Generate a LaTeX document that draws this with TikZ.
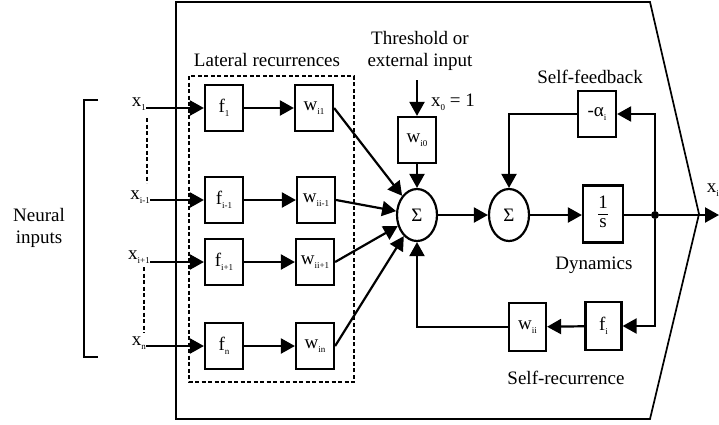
\documentclass[tikz,border=0pt]{standalone}
\usepackage{fontspec}
\setmainfont{Liberation Serif}
\usetikzlibrary{arrows.meta,shapes.geometric}
\newcommand\sbs[1]{\raisebox{-0.45ex}{\fontsize{9}{9}\selectfont #1}}
\begin{document}
\begin{tikzpicture}[x=1pt,y=-1pt,
  lbl/.style={font=\fontsize{19}{22}\selectfont, inner sep=0pt, align=center},
  blk/.style={draw, line width=2.2pt, minimum width=38pt, minimum height=46pt, inner sep=0pt, font=\fontsize{19}{21}\selectfont},
  sumnode/.style={draw, line width=2.2pt, ellipse, minimum width=40pt, minimum height=52pt, inner sep=0pt, font=\fontsize{19}{21}\selectfont},
  conn/.style={line width=2.2pt, -{Triangle[length=14pt,width=15pt]}},
  plain/.style={line width=2.2pt},
  dotline/.style={line width=2.4pt, dash pattern=on 4pt off 2.5pt},
]
\useasboundingbox (0,0) rectangle (719,424);

% outer shape
\draw[line width=1.7pt] (176,2) -- (650,2) -- (699,214) -- (650,419) -- (176,419) -- cycle;

% bracket and neural inputs
\draw[plain] (98,100) -- (84,100) -- (84,357) -- (98,357);
\node[lbl] (neural) at (39,228) {Neural\\inputs};

% lateral recurrences box
\draw[dotline] (189,76) rectangle (354,382);
\node[lbl] (latlbl) at (267,60) {Lateral recurrences};

% input labels
\node[lbl, anchor=east] (x1) at (146,104) {x\sbs{1}};
\node[lbl, anchor=east] (xim) at (150,197) {x\sbs{i-1}};
\node[lbl, anchor=east] (xip) at (150,257) {x\sbs{i+1}};
\node[lbl, anchor=east] (xn) at (146,343) {x\sbs{n}};

% dotted input continuations
\draw[dotline] (147,118) -- (147,183);
\draw[dotline] (144,267) -- (144,333);

% f and w blocks
\node[blk] (f1) at (224,108) {f\sbs{1}};
\node[blk] (w1) at (314,108) {w\sbs{i1}};
\node[blk] (fim) at (224,200) {f\sbs{i-1}};
\node[blk] (wim) at (316,200) {w\sbs{ii-1}};
\node[blk] (fip) at (224,262) {f\sbs{i+1}};
\node[blk] (wip) at (315,262) {w\sbs{ii+1}};
\node[blk] (fn) at (224,346) {f\sbs{n}};
\node[blk] (wn) at (315,346) {w\sbs{in}};

\draw[conn] (x1.east |- f1.west) -- (f1.west);
\draw[conn] (xim.east |- fim.west) -- (fim.west);
\draw[conn] (xip.east |- fip.west) -- (fip.west);
\draw[conn] (xn.east |- fn.west) -- (fn.west);
\draw[conn] (f1) -- (w1);
\draw[conn] (fim) -- (wim);
\draw[conn] (fip) -- (wip);
\draw[conn] (fn) -- (wn);

% threshold
\node[lbl] (thrlbl) at (420,51) {Threshold or\\external input};
\coordinate (thr) at (417,80);
\node[blk] (wi0) at (417,140) {w\sbs{i0}};
\node[lbl, anchor=west] (x0) at (431,102) {x\sbs{0} = 1};
\draw[conn] (thr) -- (wi0);

% sums
\node[sumnode] (s1) at (417,215) {Σ};
\node[sumnode] (s2) at (509,215) {Σ};
\draw[conn] (wi0) -- (s1);
\draw[conn] (w1.east) -- (s1);
\draw[conn] (wim.east) -- (s1);
\draw[conn] (wip.east) -- (s1);
\draw[conn] (wn.east) -- (s1);
\draw[conn] (s1) -- (s2);

% integrator
\node[blk, minimum width=40pt, minimum height=57pt] (int) at (603,214)
  {\setlength\arrayrulewidth{1pt}\renewcommand\arraystretch{0.85}\begin{tabular}{@{}c@{}}1\\\hline s\end{tabular}};
\draw[conn] (s2) -- (s2 -| int.west);
\node[circle, fill, inner sep=0pt, minimum size=8pt] (j) at (655,215) {};
\draw[plain] (int.east |- j) -- (j);
\coordinate (out) at (719,215);
\draw[conn] (j) -- (out);
\node[lbl, anchor=east] (xout) at (719,190) {x\sbs{i}};
\node[lbl] (dyn) at (594,265) {Dynamics};

% self-feedback
\node[blk] (al) at (597,114) {-α\sbs{i}};
\node[lbl] (sflbl) at (590,77) {Self-feedback};
\draw[conn] (j) |- (al.east);
\draw[conn] (al.west) -| (s2.north);

% self-recurrence
\node[blk, minimum width=36pt, minimum height=48pt] (fi) at (603.5,326) {f\sbs{i}};
\node[blk, minimum width=37pt, minimum height=48pt] (wii) at (527.5,327) {w\sbs{ii}};
\node[lbl] (srlbl) at (566,378) {Self-recurrence};
\draw[conn] (j) |- (fi.east);
\draw[conn] (fi) -- (wii);
\draw[conn] (wii.west) -| (s1.south);
\end{tikzpicture}
\end{document}
